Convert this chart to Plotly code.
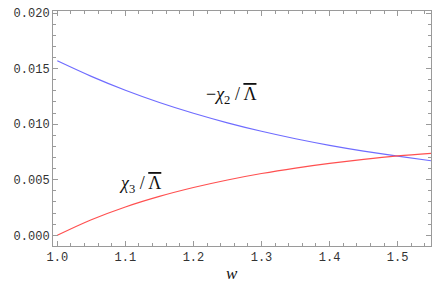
import plotly.graph_objects as go

w = [1.00, 1.05, 1.10, 1.15, 1.20, 1.25, 1.30, 1.35, 1.40, 1.45, 1.50, 1.55]
neg_chi2 = [0.01570, 0.01430, 0.01305, 0.01195, 0.01098, 0.01012, 0.00936, 0.00869,
            0.00810, 0.00758, 0.00712, 0.00670]
chi3 = [0.00000, 0.00140, 0.00255, 0.00350, 0.00430, 0.00498, 0.00556, 0.00605,
        0.00647, 0.00683, 0.00714, 0.00738]

xticks = [1.0, 1.1, 1.2, 1.3, 1.4, 1.5]
xticklabels = ["1.0", "1.1", "1.2", "1.3", "1.4", "1.5"]
yticks = [0.000, 0.005, 0.010, 0.015, 0.020]
yticklabels = ["0.000", "0.005", "0.010", "0.015", "0.020"]

fig = go.Figure()
fig.add_trace(go.Scatter(x=w, y=neg_chi2, mode="lines", line=dict(color="#6f6cff", width=1.2),
                         line_shape="spline", showlegend=False))
fig.add_trace(go.Scatter(x=w, y=chi3, mode="lines", line=dict(color="#ff5050", width=1.2),
                         line_shape="spline", showlegend=False))

axcommon = dict(showgrid=False, zeroline=False, showline=True, linecolor="#9a9a9a", linewidth=1,
                mirror="allticks", ticks="inside", ticklen=5, tickcolor="#9a9a9a", tickwidth=1,
                automargin=False,
                tickfont=dict(family="Liberation Mono", size=12, color="#333333"))

fig.update_xaxes(range=[0.9937, 1.549], tickvals=xticks, ticktext=xticklabels,
                 minor=dict(dtick=0.02, tick0=1.0, ticks="inside", ticklen=3, tickcolor="#9a9a9a"),
                 **axcommon)
fig.update_yaxes(range=[-0.00096, 0.02018], tickvals=yticks, ticktext=yticklabels,
                 minor=dict(dtick=0.001, tick0=0, ticks="inside", ticklen=3, tickcolor="#9a9a9a"),
                 **axcommon)

serif = dict(family="Liberation Serif", size=18, color="#111111")
fig.add_annotation(x=1.255, y=0.0126, xref="x", yref="y", showarrow=False, font=serif,
                   text="\u2212<i>\u03c7</i><sub>2</sub> / <span style='text-decoration:overline'>\u039b</span>")
fig.add_annotation(x=1.122, y=0.0046, xref="x", yref="y", showarrow=False, font=serif,
                   text="<i>\u03c7</i><sub>3</sub> / <span style='text-decoration:overline'>\u039b</span>")
fig.add_annotation(x=0.473, y=-0.165, xref="paper", yref="paper", showarrow=False,
                   font=dict(family="Liberation Serif", size=17, color="#111111"), text="<i>w</i>")

fig.update_layout(width=438, height=284, margin=dict(l=53, r=7, t=11, b=38),
                  plot_bgcolor="white", paper_bgcolor="white")
fig.write_html("out.html", config={"displayModeBar": False},
               post_script="document.body.style.margin='0px';")
